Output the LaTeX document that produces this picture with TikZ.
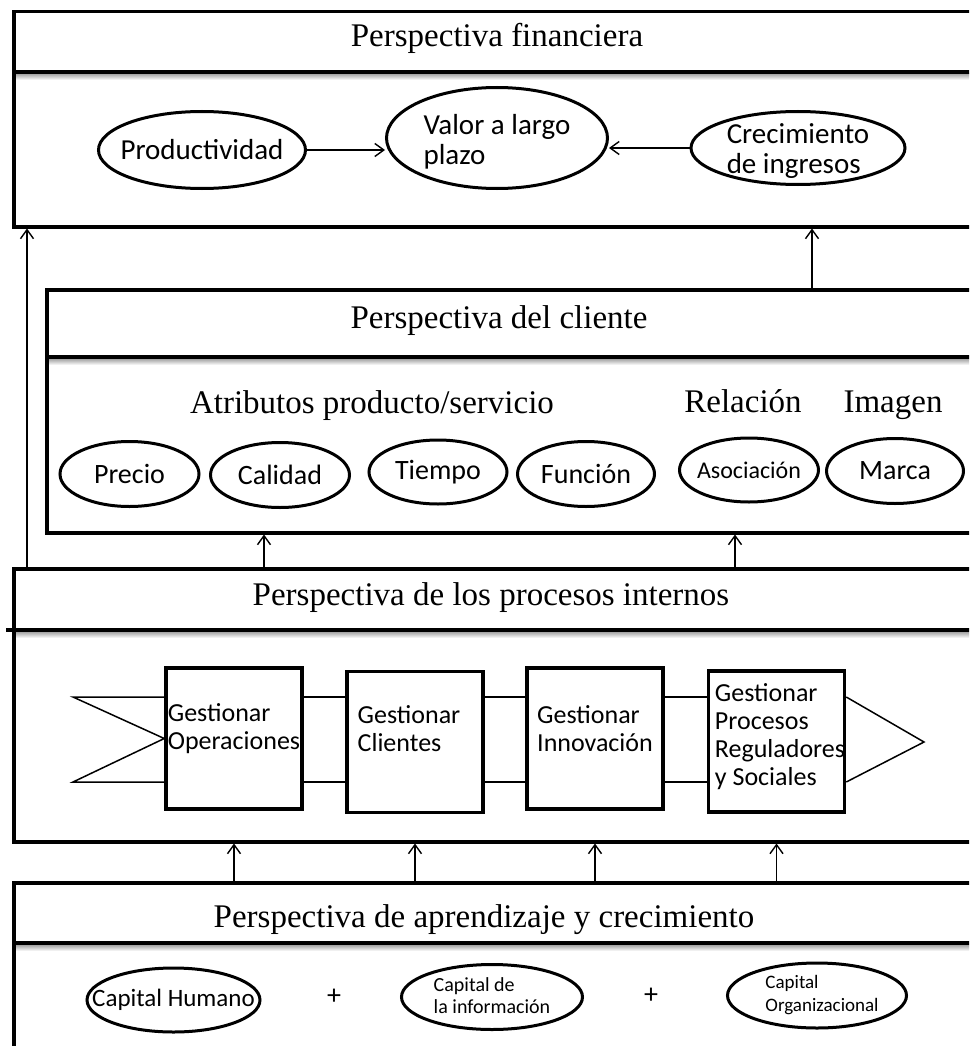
\documentclass[tikz,border=0pt]{standalone}
\usepackage{fontspec}
\setmainfont{Liberation Serif}
\newfontfamily\calibri{Carlito}
\usetikzlibrary{shapes.geometric,arrows.meta}
\tikzset{
	panel/.style={draw, line width=3.5pt, inner sep=0pt, anchor=north west},
	divider/.style={line width=3.5pt},
	shadow/.style={top color=black!35, bottom color=white},
	heading/.style={font=\fontsize{33}{36}\selectfont, anchor=base, inner sep=0pt},
	bubble/.style={draw, ellipse, line width=3pt, inner sep=0pt},
	sans/.style 2 args={font=\calibri\fontsize{#1}{#2}\selectfont, align=left, inner sep=0pt},
	stepbox/.style={draw, line width=3.5pt, inner sep=0pt, minimum width=136pt, minimum height=141pt},
	link/.style={line width=1.5pt},
	flow/.style={line width=1.4pt, -{Straight Barb[length=9pt,width=13pt,line width=1.4pt]}}
}

\begin{document}
\begin{tikzpicture}[x=1pt, y=-1pt]
		%%%%% START %%%%%
		\useasboundingbox (0,0) rectangle (969,1046);
		\clip (0,0) rectangle (969,1046);
		
		% financial
		\shade[shadow] (12,74) rectangle (997,80);
		\node[panel, minimum width=985pt, minimum height=215pt] (fin) at (12,10) {};
		\draw[divider] (12,72) -- (997,72);
		\node[heading] (finhead) at (497,47) {Perspectiva financiera};
		
		\node[bubble, minimum width=207pt, minimum height=77pt] (prod) at (202,150) {};
		\node[sans={29}{30}] (prodtxt) at (prod) {Productividad};
		\node[bubble, minimum width=221pt, minimum height=101pt] (valor) at (497,138) {};
		\node[sans={29}{30}] (valortxt) at (497,142) {Valor a largo\\plazo};
		\node[bubble, minimum width=214pt, minimum height=73pt] (crec) at (798,148) {};
		\node[sans={29}{30}] (crectxt) at (798,151) {Crecimiento\\de ingresos};
		
		\draw[flow] (prod.east) -- (prod.east -| valor.west);
		\draw[flow] (crec.west) -- (crec.west -| valor.east);
		
		% client
		\shade[shadow] (45,359) rectangle (997,365);
		\node[panel, minimum width=952pt, minimum height=243pt] (cli) at (45,288) {};
		\draw[divider] (45,357) -- (997,357);
		\node[heading] (clihead) at (499,328) {Perspectiva del cliente};
		\node[heading] (attr) at (372,413) {Atributos producto/servicio};
		\node[heading] (rel) at (743,412) {Relación};
		\node[heading] (img) at (893,412) {Imagen};
		
		\node[bubble, minimum width=139pt, minimum height=65pt] (precio) at (129.5,474) {};
		\node[sans={28}{30}] (preciotxt) at (precio) {Precio};
		\node[bubble, minimum width=139pt, minimum height=65pt] (calidad) at (280,475) {};
		\node[sans={28}{30}] (calidadtxt) at (calidad) {Calidad};
		\node[bubble, minimum width=138pt, minimum height=64pt] (tiempo) at (438,472) {};
		\node[sans={28}{30}] (tiempotxt) at (tiempo) {Tiempo};
		\node[bubble, minimum width=137pt, minimum height=65pt] (funcion) at (586,474) {};
		\node[sans={28}{30}] (funciontxt) at (funcion) {Función};
		\node[bubble, minimum width=139pt, minimum height=64pt] (asoc) at (749,470) {};
		\node[sans={24}{26}] (asoctxt) at (asoc) {Asociación};
		\node[bubble, minimum width=137pt, minimum height=65pt] (marca) at (895,471) {};
		\node[sans={28}{30}] (marcatxt) at (marca) {Marca};
		
		% internal processes
		\shade[shadow] (12,632) rectangle (997,638);
		\node[panel, minimum width=985pt, minimum height=273pt] (proc) at (12,567) {};
		\draw[divider] (6,630) -- (997,630);
		\node[heading] (prochead) at (491,605) {Perspectiva de los procesos internos};
		
		\node[stepbox] (op1) at (234,738.5) {};
		\node[stepbox] (op2) at (415,742) {};
		\node[stepbox] (op3) at (595,738.5) {};
		\node[stepbox] (op4) at (776.5,741.5) {};
		\node[sans={26}{28}] (op1txt) at (234,729) {Gestionar\\Operaciones};
		\node[sans={26}{28}] (op2txt) at (409,729) {Gestionar\\Clientes};
		\node[sans={26}{28}] (op3txt) at (595,729) {Gestionar\\Innovación};
		\node[sans={26}{28}] (op4txt) at (780,737) {Gestionar\\Procesos\\Reguladores\\y Sociales};
		
		\coordinate (tailtop) at (73,697);
		\coordinate (tailbot) at (73,782);
		\coordinate (tip) at (924,742);
		\draw[link] (op1.west |- tailtop) -- (tailtop) -- (op1.west) -- (tailbot) -- (op1.west |- tailbot);
		\draw[link] (op1.east |- tailtop) -- (op2.west |- tailtop);
		\draw[link] (op1.east |- tailbot) -- (op2.west |- tailbot);
		\draw[link] (op2.east |- tailtop) -- (op3.west |- tailtop);
		\draw[link] (op2.east |- tailbot) -- (op3.west |- tailbot);
		\draw[link] (op3.east |- tailtop) -- (op4.west |- tailtop);
		\draw[link] (op3.east |- tailbot) -- (op4.west |- tailbot);
		\draw[link] (op4.east |- tailtop) -- (tip) -- (op4.east |- tailbot);
		
		% learning and growth
		\shade[shadow] (12,945) rectangle (997,951);
		\node[panel, minimum width=985pt, minimum height=200pt] (learn) at (12,881) {};
		\draw[divider] (12,943) -- (997,943);
		\node[heading] (learnhead) at (484,927) {Perspectiva de aprendizaje y crecimiento};
		
		\node[bubble, minimum width=173pt, minimum height=64pt] (human) at (173.5,1000) {};
		\node[sans={25}{27}] (humantxt) at (human) {Capital Humano};
		\node[sans={28}{30}] (plus1) at (334,997) {+};
		\node[bubble, minimum width=181pt, minimum height=65pt] (info) at (492,997) {};
		\node[sans={20}{22}] (infotxt) at (492,996) {Capital de\\la información};
		\node[sans={28}{30}] (plus2) at (651,996) {+};
		\node[bubble, minimum width=179pt, minimum height=65pt] (org) at (817,995.5) {};
		\node[sans={19}{23}] (orgtxt) at (822,995) {Capital\\Organizacional};
		
		% links between perspectives
		\coordinate (x1) at (27,0);
		\coordinate (x2) at (812,0);
		\coordinate (x3) at (264,0);
		\coordinate (x4) at (735,0);
		\draw[flow] (proc.north -| x1) -- (fin.south -| x1);
		\draw[flow] (cli.north -| x2) -- (fin.south -| x2);
		\draw[flow] (proc.north -| x3) -- (cli.south -| x3);
		\draw[flow] (proc.north -| x4) -- (cli.south -| x4);
		\draw[flow] (learn.north -| op1) -- (proc.south -| op1);
		\draw[flow] (learn.north -| op2) -- (proc.south -| op2);
		\draw[flow] (learn.north -| op3) -- (proc.south -| op3);
		\draw[flow] (learn.north -| op4) -- (proc.south -| op4);
		
		%%%%% END %%%%%
\end{tikzpicture}
\end{document}
